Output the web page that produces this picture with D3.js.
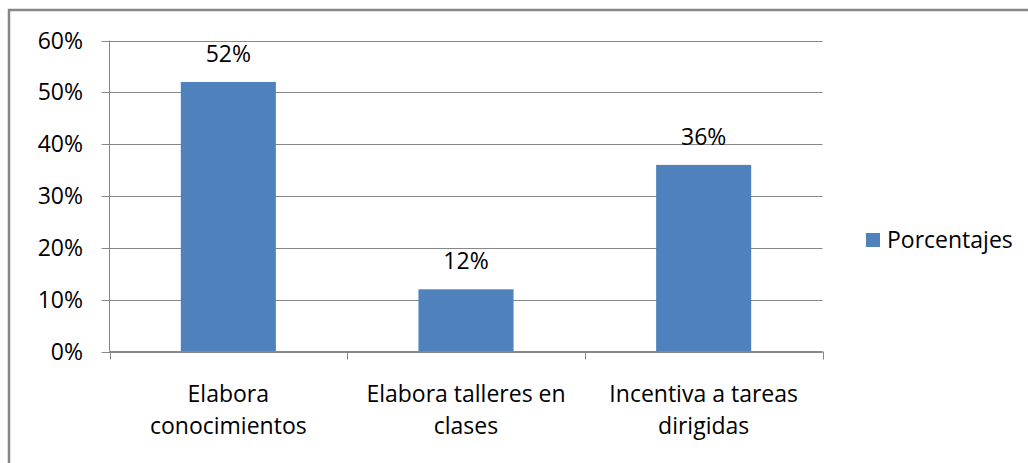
<!DOCTYPE html>
<html><head><meta charset="utf-8">
<script src="https://cdn.jsdelivr.net/npm/d3@7"></script>
<style>
html,body{margin:0;padding:0;background:#fff;}
svg{display:block;}
text{font-family:"Open Sans",sans-serif;fill:#000;}
</style></head>
<body>
<svg id="c" width="1028" height="463"></svg>
<script>
const categories = [["Elabora","conocimientos"],["Elabora talleres en","clases"],["Incentiva a tareas","dirigidas"]];
const values = [0.52, 0.12, 0.36];
const yTicks = [0, 0.1, 0.2, 0.3, 0.4, 0.5, 0.6];
const seriesName = "Porcentajes";

const svg = d3.select("#c");
const fs = 23;
const gray = "#878787";
const barColor = "#4F81BD";

// outer border (top & left visible)
svg.append("rect").attr("x",9).attr("y",10).attr("width",1100).attr("height",500)
  .attr("fill","none").attr("stroke",gray).attr("stroke-width",2.5);

const L = 109.5, R = 822.5, T = 40.5, B = 351.5;
const keys = categories.map((d,i)=>i);
const x = d3.scaleBand().domain(keys).range([L,R]).paddingInner(0.6).paddingOuter(0.3);
const xEdge = d3.scaleLinear().domain([0,categories.length]).range([L,R]);
const y = d3.scaleLinear().domain([0,0.6]).range([B,T]);

// gridlines
svg.append("g").selectAll("line").data(yTicks).join("line")
  .attr("x1",L-8).attr("x2",R).attr("y1",d=>Math.round(y(d))+0.5).attr("y2",d=>Math.round(y(d))+0.5)
  .attr("stroke",gray).attr("stroke-width",1);

// y axis line
svg.append("line").attr("x1",L).attr("x2",L).attr("y1",T).attr("y2",B).attr("stroke",gray);

// x ticks
svg.append("g").selectAll("line").data(d3.range(categories.length+1)).join("line")
  .attr("x1",d=>Math.round(xEdge(d))+0.5).attr("x2",d=>Math.round(xEdge(d))+0.5)
  .attr("y1",B).attr("y2",B+8).attr("stroke",gray);

// bars
svg.append("g").selectAll("rect").data(values).join("rect")
  .attr("x",(d,i)=>x(i)).attr("width",x.bandwidth())
  .attr("y",d=>y(d)).attr("height",d=>B-0.5-y(d)).attr("fill",barColor);

// redraw baseline on top
svg.append("line").attr("x1",L).attr("x2",R).attr("y1",B).attr("y2",B).attr("stroke",gray);

// y tick labels
svg.append("g").selectAll("text").data(yTicks).join("text")
  .attr("x",83).attr("y",d=>y(d)+8).attr("text-anchor","end").attr("font-size",fs)
  .text(d=>d3.format(".0%")(d));

// data labels
svg.append("g").selectAll("text").data(values).join("text")
  .attr("x",(d,i)=>x(i)+x.bandwidth()/2).attr("y",d=>y(d)-20)
  .attr("text-anchor","middle").attr("font-size",fs).text(d=>d3.format(".0%")(d));

// category labels
const cg = svg.append("g").selectAll("text").data(categories).join("text")
  .attr("text-anchor","middle").attr("font-size",fs);
cg.each(function(lines,i){
  const t = d3.select(this);
  lines.forEach((ln,j)=>{
    t.append("tspan").attr("x",x(i)+x.bandwidth()/2).attr("y",401.5+j*32).text(ln);
  });
});

// legend
svg.append("rect").attr("x",866).attr("y",233).attr("width",14).attr("height",14).attr("fill",barColor);
svg.append("text").attr("x",887).attr("y",248).attr("font-size",fs).text(seriesName);
</script>
</body></html>
